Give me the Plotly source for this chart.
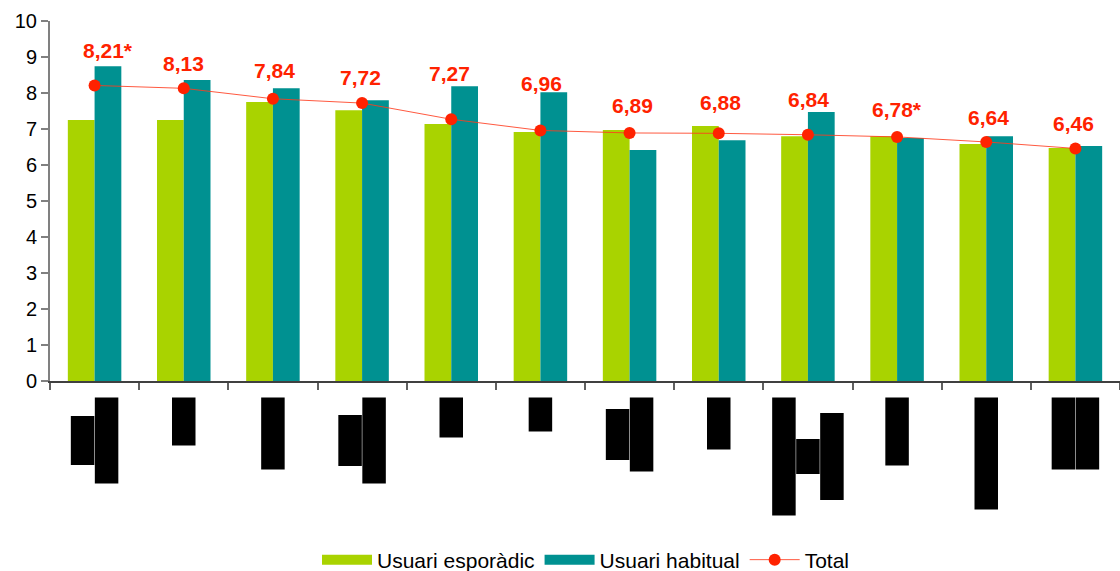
import plotly.graph_objects as go

# category labels are blacked out in the source image, so placeholders are used
categories = [f"Categoria {i}" for i in range(1, 13)]

esporadic = [7.25, 7.25, 7.75, 7.52, 7.14, 6.92, 6.97, 7.08, 6.80, 6.80, 6.58, 6.47]
habitual = [8.74, 8.36, 8.13, 7.80, 8.19, 8.02, 6.42, 6.69, 7.47, 6.75, 6.80, 6.53]
total = [8.21, 8.13, 7.84, 7.72, 7.27, 6.96, 6.89, 6.88, 6.84, 6.78, 6.64, 6.46]
total_text = ["8,21*", "8,13", "7,84", "7,72", "7,27", "6,96",
              "6,89", "6,88", "6,84", "6,78*", "6,64", "6,46"]

# redacted label blocks under the axis: length in px of each (rotated) text line
redacted_lines = [
    [49, 86], [48], [72], [51, 86], [40], [34],
    [51, 74], [52], [118, 35, 87], [68], [112], [72, 72],
]

GREEN = "#A9D300"
TEAL = "#009191"
RED = "#FF2200"
FONT = "Liberation Sans, Arial, sans-serif"

# label placement tweaks (pixels) to follow the original layout
label_dy = [35, 25, 28, 26, 46, 47, 27, 31, 35, 27, 24, 25]
label_dx = [13, 0, 2, -2, -2, 1, 3, 2, 1, 0, 2, -2]

fig = go.Figure()

for name, vals, color in [("Usuari esporàdic", esporadic, GREEN),
                          ("Usuari habitual", habitual, TEAL)]:
    fig.add_trace(go.Bar(x=categories, y=vals, name=name, legendgroup=name,
                         showlegend=False,
                         marker=dict(color=color, line=dict(width=0))))
    # wide flat swatch for the legend, like the original
    fig.add_trace(go.Scatter(x=[None], y=[None], name=name, legendgroup=name,
                             mode="lines", line=dict(color=color, width=14)))

fig.add_trace(go.Scatter(
    x=categories, y=total, name="Total", mode="lines+markers",
    line=dict(color="rgba(255,60,30,0.85)", width=1),
    marker=dict(color=RED, size=12),
))

for i, (v, txt) in enumerate(zip(total, total_text)):
    fig.add_annotation(
        x=categories[i], y=v, text=f"<b>{txt}</b>", showarrow=False,
        yanchor="middle", yshift=label_dy[i], xshift=label_dx[i],
        font=dict(family=FONT, size=21, color=RED),
    )

# black boxes standing in for the hidden category labels
TOP_GAP, COL_W, PITCH = 16.5, 23.5, 24
for i, lines in enumerate(redacted_lines):
    longest = max(lines)
    left = -(len(lines) * PITCH - (PITCH - COL_W)) / 2
    for j, ln in enumerate(lines):
        top = TOP_GAP + (longest - ln) / 2
        fig.add_shape(
            type="rect", xref="x", yref="paper",
            xsizemode="pixel", ysizemode="pixel",
            xanchor=categories[i], yanchor=0,
            x0=left + j * PITCH, x1=left + j * PITCH + COL_W,
            y0=-top, y1=-(top + ln),
            fillcolor="black", line=dict(width=0),
        )

fig.update_layout(
    width=1120, height=571,
    margin=dict(l=50, r=0, t=21, b=190, autoexpand=False),
    paper_bgcolor="white", plot_bgcolor="white",
    barmode="group", bargap=0.4, bargroupgap=0,
    font=dict(family=FONT, size=20, color="black"),
    showlegend=True,
    legend=dict(
        orientation="h", xref="container", yref="container",
        x=586 / 1120, xanchor="center", y=11 / 571, yanchor="middle",
        font=dict(family=FONT, size=21, color="black"),
        itemwidth=50, bgcolor="rgba(0,0,0,0)",
    ),
)
fig.update_xaxes(
    type="category", range=[-0.5, 11.5], autorange=False,
    showticklabels=False, showgrid=False, zeroline=False,
    showline=True, linecolor="#404040", linewidth=2,
    ticks="outside", tickson="boundaries", ticklen=7, tickcolor="#606060", tickwidth=1.5,
)
fig.update_yaxes(
    range=[0, 10], dtick=1, showgrid=False, zeroline=False,
    showline=True, linecolor="#808080", linewidth=2,
    ticks="outside", ticklen=7, tickcolor="#808080", tickwidth=1.5,
    tickfont=dict(family=FONT, size=20, color="black"),
)

fig.write_html(
    "out.html",
    config={"displayModeBar": False},
    post_script="document.body.style.margin='0';document.body.style.overflow='hidden';",
)
